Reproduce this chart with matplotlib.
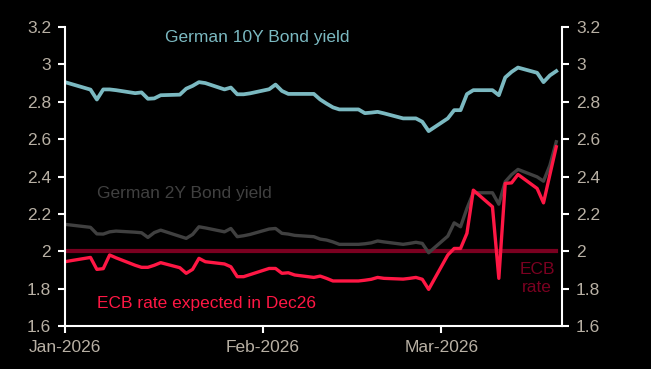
import numpy as np
import pandas as pd
import matplotlib
matplotlib.use("Agg")
import matplotlib.pyplot as plt
import matplotlib.dates as mdates

plt.rcParams['font.family'] = ['Liberation Sans', 'DejaVu Sans']

# business days Jan 1 - Mar 19 2026
dates = pd.bdate_range('2026-01-01', '2026-03-19')

bund_10y = [2.905, 2.895, 2.865, 2.812, 2.866, 2.866, 2.862, 2.846, 2.850, 2.816,
            2.818, 2.835, 2.838, 2.870, 2.885, 2.905, 2.900, 2.866, 2.876, 2.840,
            2.840, 2.845, 2.867, 2.892, 2.858, 2.842, 2.842, 2.842, 2.812, 2.790,
            2.770, 2.759, 2.759, 2.739, 2.742, 2.746, 2.738, 2.711, 2.711, 2.711,
            2.693, 2.643, 2.711, 2.755, 2.755, 2.841, 2.862, 2.862, 2.835, 2.930,
            2.960, 2.983, 2.955, 2.905, 2.941, 2.964]

bund_2y = [2.144, 2.140, 2.128, 2.093, 2.092, 2.104, 2.108, 2.102, 2.099, 2.074,
           2.100, 2.113, 2.080, 2.069, 2.090, 2.131, 2.125, 2.104, 2.122, 2.078,
           2.083, 2.090, 2.119, 2.122, 2.096, 2.092, 2.085, 2.078, 2.065, 2.060,
           2.050, 2.037, 2.037, 2.040, 2.045, 2.055, 2.050, 2.037, 2.042, 2.048,
           2.042, 1.992, 2.081, 2.152, 2.131, 2.229, 2.313, 2.313, 2.252, 2.372,
           2.410, 2.438, 2.398, 2.375, 2.460, 2.586]

ecb_dec26 = [1.944, 1.950, 1.967, 1.903, 1.907, 1.980, 1.965, 1.925, 1.914, 1.914,
             1.925, 1.939, 1.912, 1.882, 1.903, 1.962, 1.944, 1.932, 1.917, 1.864,
             1.864, 1.875, 1.908, 1.908, 1.882, 1.885, 1.873, 1.860, 1.867, 1.855,
             1.841, 1.841, 1.841, 1.845, 1.850, 1.860, 1.855, 1.851, 1.855, 1.860,
             1.850, 1.796, 1.980, 2.015, 2.015, 2.096, 2.327, 2.238, 1.855, 2.363,
             2.366, 2.411, 2.336, 2.259, 2.410, 2.559]

ecb_rate = 2.0

teal = '#7bb9c1'
grey = '#404040'
red = '#ff1744'
maroon = '#7a0020'
tick_col = '#b8b0a4'

fig = plt.figure(figsize=(6.51, 3.69), dpi=100, facecolor='black')
ax = fig.add_axes([0.0998, 0.1165, 0.7635, 0.8103])
ax.set_facecolor('black')

ax.plot(dates, bund_10y, color=teal, lw=2.7)
ax.plot(dates, [ecb_rate] * len(dates), color=maroon, lw=3.0)
ax.plot(dates, bund_2y, color=grey, lw=2.4)
ax.plot(dates, ecb_dec26, color=red, lw=2.4)

ax.set_ylim(1.6, 3.2)
ax.set_xlim(pd.Timestamp('2026-01-01'), pd.Timestamp('2026-01-01') + pd.Timedelta(days=77.9))
yt = np.arange(1.6, 3.21, 0.2)
ax.set_yticks(yt)
ax.set_yticklabels([f'{v:g}' for v in np.round(yt, 1)])

ax.xaxis.set_major_locator(mdates.MonthLocator())
ax.xaxis.set_major_formatter(mdates.DateFormatter('%b-%Y'))

ax.spines['top'].set_visible(False)
for side in ['left', 'right', 'bottom']:
    ax.spines[side].set_color('white')
    ax.spines[side].set_linewidth(1.5)

ax.tick_params(axis='both', colors='white', labelcolor=tick_col, labelsize=12.5,
               direction='out', length=5, width=1.5)
ax.tick_params(axis='y', which='both', left=True, right=True,
               labelleft=True, labelright=True, pad=5)
ax.tick_params(axis='x', pad=5)

# series labels
ax.text(pd.Timestamp('2026-01-16 16:00'), 3.145, 'German 10Y Bond yield', color=teal,
        fontsize=12.5, va='center')
ax.text(pd.Timestamp('2026-01-06'), 2.31, 'German 2Y Bond yield', color=grey,
        fontsize=12.5, va='center')
ax.text(pd.Timestamp('2026-01-06'), 1.723, 'ECB rate expected in Dec26', color=red,
        fontsize=12.5, va='center')
ax.text(pd.Timestamp('2026-03-16'), 1.855, 'ECB\nrate', color=maroon, fontsize=12.5,
        ha='center', va='center', linespacing=1.3)

fig.savefig('out.png', dpi=100, facecolor='black')
